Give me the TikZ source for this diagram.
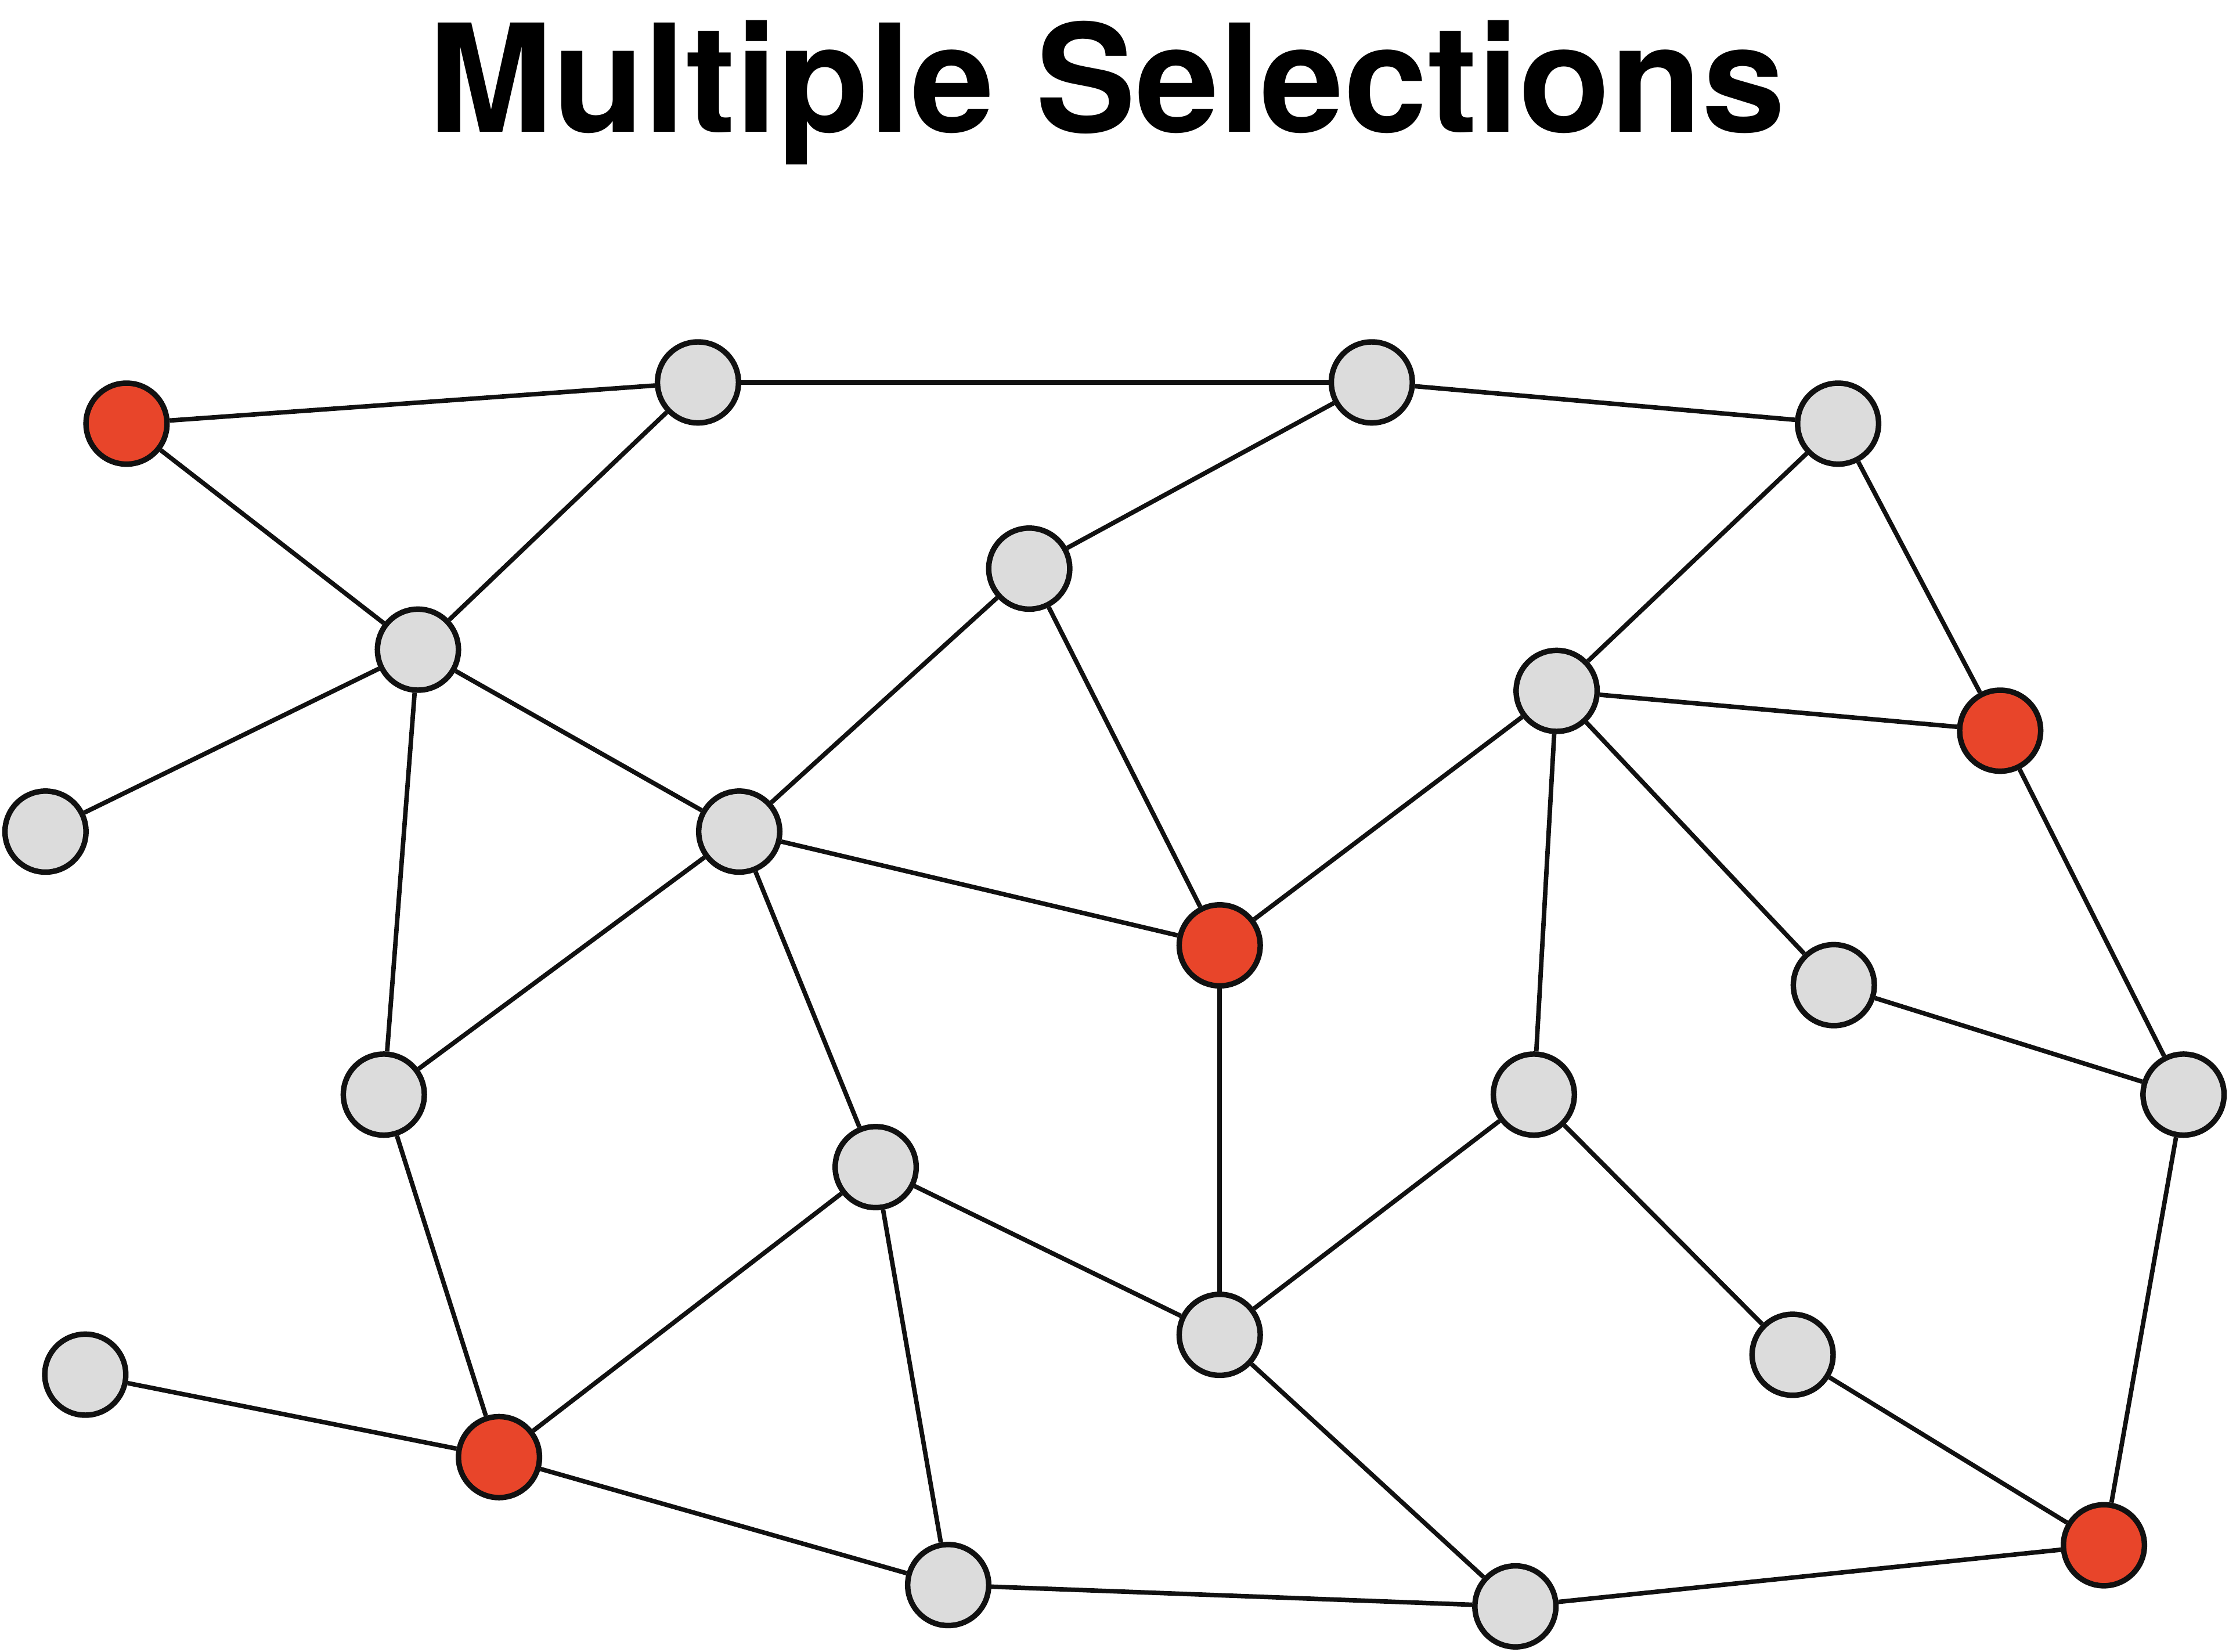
\documentclass[tikz,border=0pt]{standalone}
\usepackage{fontspec}
\setsansfont{TeX Gyre Heros}
\usepackage{xcolor}
\definecolor{selred}{HTML}{E8452A}
\definecolor{idle}{HTML}{DCDCDC}
\definecolor{ink}{HTML}{111111}
\usetikzlibrary{backgrounds}
\tikzset{
  vtx/.style={circle,draw=ink,fill=idle,line width=1.1pt,minimum size=5.7mm,inner sep=0pt},
  vsel/.style={vtx,fill=selred},
  link/.style={draw=ink,line width=0.9pt},
  heading/.style={font=\sffamily\bfseries\fontsize{30}{32}\selectfont,anchor=base,inner sep=0pt},
}
\begin{document}
\begin{tikzpicture}
  \useasboundingbox (0,0) rectangle (15.68,11.62);
  \node[heading] (title) at (7.785,10.69) {Multiple Selections};
  % vertices
  \node[vsel] (a) at (0.89,8.64) {};
  \node[vtx]  (b) at (4.91,8.93) {};
  \node[vtx]  (c) at (9.65,8.93) {};
  \node[vtx]  (d) at (12.93,8.64) {};
  \node[vtx]  (e) at (7.24,7.62) {};
  \node[vtx]  (f) at (2.94,7.05) {};
  \node[vtx]  (g) at (10.95,6.76) {};
  \node[vsel] (h) at (14.07,6.48) {};
  \node[vtx]  (i) at (0.32,5.77) {};
  \node[vtx]  (j) at (5.20,5.77) {};
  \node[vsel] (k) at (8.58,4.97) {};
  \node[vtx]  (l) at (12.90,4.69) {};
  \node[vtx]  (m) at (2.70,3.92) {};
  \node[vtx]  (n) at (10.79,3.92) {};
  \node[vtx]  (o) at (15.36,3.92) {};
  \node[vtx]  (p) at (6.16,3.41) {};
  \node[vtx]  (q) at (8.58,2.23) {};
  \node[vtx]  (r) at (12.61,2.09) {};
  \node[vtx]  (s) at (0.60,1.95) {};
  \node[vsel] (t) at (3.51,1.37) {};
  \node[vsel] (u) at (14.80,0.75) {};
  \node[vtx]  (v) at (6.67,0.47) {};
  \node[vtx]  (w) at (10.66,0.32) {};
  % edges
  \begin{scope}[on background layer]
    \foreach \x/\y in {a/b,b/c,c/d,a/f,b/f,c/e,d/g,d/h,f/i,f/j,f/m,e/j,e/k,
      g/h,g/k,g/n,g/l,h/o,j/k,j/m,j/p,k/q,l/o,m/t,n/q,n/r,o/u,p/t,p/q,p/v,
      q/w,r/u,s/t,t/v,v/w,w/u}
      \draw[link] (\x) -- (\y);
  \end{scope}
\end{tikzpicture}
\end{document}
